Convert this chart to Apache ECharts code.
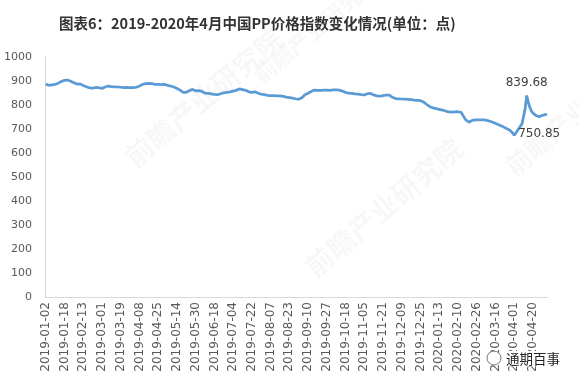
<!DOCTYPE html>
<html>
<head>
<meta charset="utf-8">
<script src="https://cdn.jsdelivr.net/npm/echarts@6/dist/echarts.min.js"></script>
<style>html,body{margin:0;padding:0;background:#fff;}#c{width:579px;height:385px;}</style>
</head>
<body>
<div id="c"></div>
<script>
var titleText = '图表6：2019-2020年4月中国PP价格指数变化情况(单位：点)';
var yTicks = [0, 100, 200, 300, 400, 500, 600, 700, 800, 900, 1000];
var dates = [
'2019-01-02','2019-01-03','2019-01-04','2019-01-07','2019-01-08','2019-01-09','2019-01-10','2019-01-11','2019-01-14','2019-01-15','2019-01-16','2019-01-17',
'2019-01-18','2019-01-21','2019-01-22','2019-01-23','2019-01-24','2019-01-25','2019-01-28','2019-01-29','2019-01-30','2019-01-31','2019-02-11','2019-02-12',
'2019-02-13','2019-02-14','2019-02-15','2019-02-18','2019-02-19','2019-02-20','2019-02-21','2019-02-22','2019-02-25','2019-02-26','2019-02-27','2019-02-28',
'2019-03-01','2019-03-04','2019-03-05','2019-03-06','2019-03-07','2019-03-08','2019-03-11','2019-03-12','2019-03-13','2019-03-14','2019-03-15','2019-03-18',
'2019-03-19','2019-03-20','2019-03-21','2019-03-22','2019-03-25','2019-03-26','2019-03-27','2019-03-28','2019-03-29','2019-04-01','2019-04-02','2019-04-03',
'2019-04-08','2019-04-09','2019-04-10','2019-04-11','2019-04-15','2019-04-16','2019-04-17','2019-04-18','2019-04-19','2019-04-22','2019-04-23','2019-04-24',
'2019-04-25','2019-04-26','2019-04-28','2019-04-29','2019-04-30','2019-05-05','2019-05-06','2019-05-07','2019-05-08','2019-05-09','2019-05-10','2019-05-13',
'2019-05-14','2019-05-15','2019-05-16','2019-05-17','2019-05-20','2019-05-21','2019-05-22','2019-05-23','2019-05-24','2019-05-27','2019-05-28','2019-05-29',
'2019-05-30','2019-05-31','2019-06-03','2019-06-04','2019-06-05','2019-06-06','2019-06-10','2019-06-11','2019-06-12','2019-06-13','2019-06-14','2019-06-17',
'2019-06-18','2019-06-19','2019-06-20','2019-06-21','2019-06-24','2019-06-25','2019-06-26','2019-06-27','2019-06-28','2019-07-01','2019-07-02','2019-07-03',
'2019-07-04','2019-07-05','2019-07-08','2019-07-09','2019-07-10','2019-07-11','2019-07-12','2019-07-15','2019-07-16','2019-07-17','2019-07-18','2019-07-19',
'2019-07-22','2019-07-23','2019-07-24','2019-07-25','2019-07-26','2019-07-29','2019-07-30','2019-07-31','2019-08-01','2019-08-02','2019-08-05','2019-08-06',
'2019-08-07','2019-08-08','2019-08-09','2019-08-12','2019-08-13','2019-08-14','2019-08-15','2019-08-16','2019-08-19','2019-08-20','2019-08-21','2019-08-22',
'2019-08-23','2019-08-26','2019-08-27','2019-08-28','2019-08-29','2019-08-30','2019-09-02','2019-09-03','2019-09-04','2019-09-05','2019-09-06','2019-09-09',
'2019-09-10','2019-09-11','2019-09-12','2019-09-16','2019-09-17','2019-09-18','2019-09-19','2019-09-20','2019-09-23','2019-09-24','2019-09-25','2019-09-26',
'2019-09-27','2019-09-29','2019-09-30','2019-10-08','2019-10-09','2019-10-10','2019-10-11','2019-10-12','2019-10-14','2019-10-15','2019-10-16','2019-10-17',
'2019-10-18','2019-10-21','2019-10-22','2019-10-23','2019-10-24','2019-10-25','2019-10-28','2019-10-29','2019-10-30','2019-10-31','2019-11-01','2019-11-04',
'2019-11-05','2019-11-06','2019-11-07','2019-11-08','2019-11-11','2019-11-12','2019-11-13','2019-11-14','2019-11-15','2019-11-18','2019-11-19','2019-11-20',
'2019-11-21','2019-11-22','2019-11-25','2019-11-26','2019-11-27','2019-11-28','2019-11-29','2019-12-02','2019-12-03','2019-12-04','2019-12-05','2019-12-06',
'2019-12-09','2019-12-10','2019-12-11','2019-12-12','2019-12-13','2019-12-16','2019-12-17','2019-12-18','2019-12-19','2019-12-20','2019-12-23','2019-12-24',
'2019-12-25','2019-12-26','2019-12-27','2019-12-30','2019-12-31','2020-01-02','2020-01-03','2020-01-06','2020-01-07','2020-01-08','2020-01-09','2020-01-10',
'2020-01-13','2020-01-14','2020-01-15','2020-01-16','2020-01-17','2020-01-20','2020-01-21','2020-01-22','2020-01-23','2020-02-05','2020-02-06','2020-02-07',
'2020-02-10','2020-02-11','2020-02-12','2020-02-13','2020-02-14','2020-02-17','2020-02-18','2020-02-19','2020-02-20','2020-02-21','2020-02-24','2020-02-25',
'2020-02-26','2020-02-27','2020-02-28','2020-03-02','2020-03-03','2020-03-04','2020-03-05','2020-03-06','2020-03-09','2020-03-10','2020-03-11','2020-03-12',
'2020-03-16','2020-03-17','2020-03-18','2020-03-19','2020-03-20','2020-03-23','2020-03-24','2020-03-25','2020-03-26','2020-03-27','2020-03-30','2020-03-31',
'2020-04-01','2020-04-02','2020-04-03','2020-04-07','2020-04-08','2020-04-09','2020-04-10','2020-04-13','2020-04-14','2020-04-15','2020-04-16','2020-04-17',
'2020-04-20','2020-04-21','2020-04-22','2020-04-23','2020-04-24','2020-04-26','2020-04-27','2020-04-28','2020-04-29','2020-04-30'
];
var ppIndex = [
887,884,882,883,884,885,886,888,891,895,898,901,
903,904,904,902,899,897,893,889,887,886,888,884,
881,879,876,873,871,869,870,872,873,874,872,870,
869,872,875,878,879,878,877,878,876,876,875,874,
874,873,872,872,873,872,872,871,872,872,874,877,
879,883,886,888,889,890,890,891,889,887,886,887,
886,886,885,886,886,884,882,880,879,878,875,872,
869,867,862,857,853,852,853,856,860,863,865,862,
859,858,860,861,857,853,849,848,848,847,846,845,
844,842,843,845,847,849,851,852,853,854,855,857,
858,860,861,864,867,866,864,863,861,858,855,853,
853,854,855,852,849,846,845,844,843,842,840,839,
839,840,839,838,838,839,838,837,836,835,833,832,
831,830,829,828,826,825,824,825,830,836,843,847,
849,852,856,860,862,862,861,860,861,862,862,863,
862,862,861,862,863,864,863,862,862,861,858,855,
852,850,849,849,848,847,846,845,845,844,843,842,
842,844,847,849,848,845,842,840,838,837,837,838,
839,840,841,842,841,837,832,828,827,827,826,826,
825,825,824,824,823,823,822,821,820,820,819,818,
818,815,812,809,802,796,793,790,788,786,785,783,
782,780,779,777,775,773,771,769,770,771,771,772,
772,772,769,762,748,738,730,728,732,736,737,738,
739,738,737,738,739,738,737,735,733,731,729,726,
724,721,718,715,712,709,705,702,699,696,690,683,
674,680,693,703,712,722,730,785,839.68,812,790,775,
766,760,756,753,750.85,755,757,756,760,763
];
var peakLabelValue = 839.68;
var lowLabelValue = 750.85;
var peakIdx = ppIndex.indexOf(peakLabelValue);
var lowIdx = ppIndex.indexOf(lowLabelValue);

var chart = echarts.init(document.getElementById('c'), null, { renderer: 'canvas' });
var wm = 'rgba(0,0,0,0.03)';
var labelStyle = { color: '#404040', fontSize: 12, fontFamily: 'DejaVu Sans' };
chart.setOption({
  animation: false,
  backgroundColor: '#ffffff',
  title: {
    text: titleText,
    left: 54, top: 11,
    textStyle: { fontFamily: 'Noto Sans CJK SC', fontWeight: 'bold', fontSize: 14.5, color: '#333333' }
  },
  graphic: [
    { type: 'text', x: 120, y: 150, rotation: 0.7, style: { text: '前瞻产业研究院', fontSize: 28, fontWeight: 'bold', fontFamily: 'Noto Sans CJK SC', fill: wm } },
    { type: 'text', x: 300, y: 260, rotation: 0.7, style: { text: '前瞻产业研究院', fontSize: 28, fontWeight: 'bold', fontFamily: 'Noto Sans CJK SC', fill: wm } },
    { type: 'text', x: 250, y: 70, rotation: 0.7, style: { text: '前瞻产业研究院', fontSize: 22, fontWeight: 'bold', fontFamily: 'Noto Sans CJK SC', fill: wm } },
    { type: 'text', x: 500, y: 160, rotation: 0.7, style: { text: '前瞻产业', fontSize: 26, fontWeight: 'bold', fontFamily: 'Noto Sans CJK SC', fill: wm } },
    { type: 'text', x: 504, y: 351, z: 100, style: { text: '通期百事', fontSize: 13.5, fontFamily: 'Noto Sans CJK SC', fill: '#222', backgroundColor: '#fff', padding: [1, 2, 1, 2] } },
    { type: 'circle', z: 100, shape: { cx: 494, cy: 358, r: 7 }, style: { fill: '#fff', stroke: '#777', lineWidth: 1 } }
  ],
  grid: { left: 45, right: 31.2, top: 57, bottom: 88, containLabel: false },
  xAxis: {
    type: 'category',
    data: dates,
    boundaryGap: true,
    axisLine: { show: true, lineStyle: { color: '#d9d9d9', width: 1 } },
    axisTick: { show: false },
    axisLabel: { interval: 11, rotate: 90, margin: 5, color: '#595959', fontSize: 12, fontFamily: 'DejaVu Sans' },
    splitLine: { show: false }
  },
  yAxis: {
    type: 'value',
    min: 0, max: 1000, interval: 100,
    axisLine: { show: true, lineStyle: { color: '#d9d9d9', width: 1 } },
    axisTick: { show: false },
    splitLine: { show: false },
    axisLabel: { margin: 13, color: '#595959', fontSize: 11, fontFamily: 'DejaVu Sans',
      formatter: function (v) { return yTicks.indexOf(v) >= 0 ? String(v) : ''; } }
  },
  series: [{
    type: 'line',
    data: ppIndex,
    symbol: 'none',
    smooth: false,
    lineStyle: { color: '#5B9BD5', width: 2.75 },
    itemStyle: { color: '#5B9BD5' },
    markPoint: {
      symbol: 'circle',
      symbolSize: 0,
      itemStyle: { color: 'rgba(0,0,0,0)' },
      silent: true,
      data: [
        { coord: [peakIdx, peakLabelValue], value: peakLabelValue,
          label: Object.assign({ show: true, position: 'top', distance: 7, formatter: String(peakLabelValue) }, labelStyle) },
        { coord: [lowIdx, lowLabelValue], value: lowLabelValue,
          label: Object.assign({ show: true, position: 'bottom', distance: 11, formatter: String(lowLabelValue) }, labelStyle) }
      ]
    }
  }]
});
</script>
</body>
</html>
